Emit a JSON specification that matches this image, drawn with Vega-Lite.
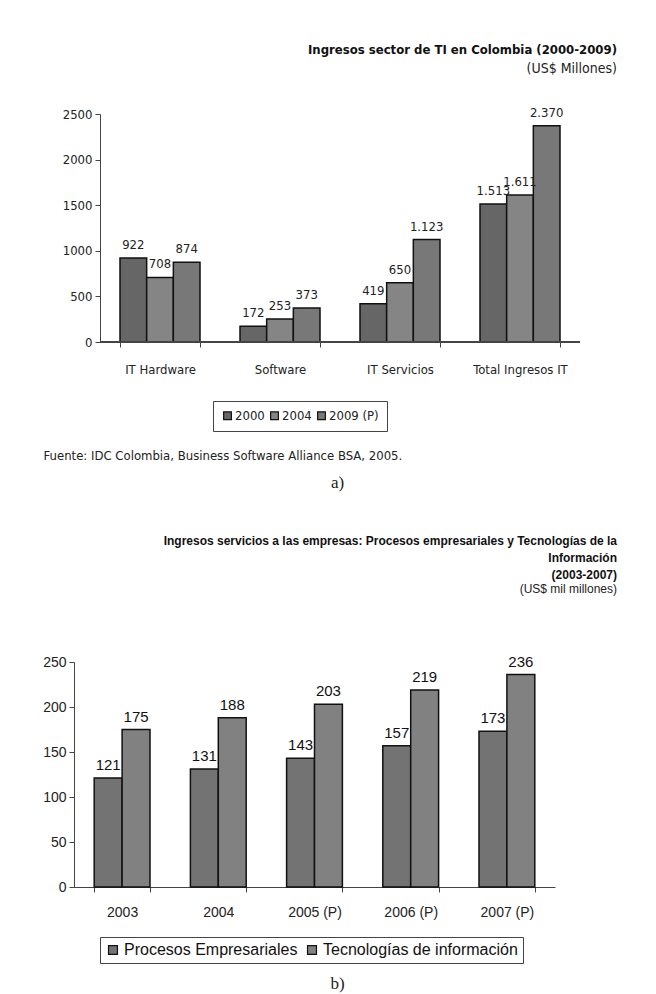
{
  "$schema": "https://vega.github.io/schema/vega-lite/v6.json",
  "padding": {"left": 42, "top": 43, "right": 5, "bottom": 5},
  "background": "white",
  "spacing": 44,
  "resolve": {"scale": {"x": "independent", "xOffset": "independent", "y": "independent", "color": "independent"}, "legend": {"color": "independent"}},
  "config": {
    "view": {"stroke": null},
    "locale": {"number": {"decimal": ",", "thousands": ".", "grouping": [3], "currency": ["US$", ""]}},
    "axis": {"grid": false, "domainColor": "#444", "tickColor": "#444", "labelColor": "#222", "titleColor": "#222"}
  },
  "vconcat": [
    {
      "width": 506,
      "height": 228,
      "title": {
        "text": "Ingresos sector de TI en Colombia (2000-2009)",
        "subtitle": "(US$ Millones)",
        "anchor": "end",
        "frame": "group",
        "dx": 37,
        "offset": 31,
        "font": "DejaVu Sans Condensed, Liberation Sans Narrow, Liberation Sans, sans-serif",
        "fontSize": 13,
        "fontWeight": "bold",
        "color": "#111",
        "subtitleFont": "DejaVu Sans Condensed, Liberation Sans Narrow, Liberation Sans, sans-serif",
        "subtitleFontSize": 14,
        "subtitleColor": "#222",
        "subtitlePadding": 5
      },
      "data": {"values": [
        {"cat": "IT Hardware", "year": "2000", "v": 922},
        {"cat": "IT Hardware", "year": "2004", "v": 708},
        {"cat": "IT Hardware", "year": "2009 (P)", "v": 874},
        {"cat": "Software", "year": "2000", "v": 172},
        {"cat": "Software", "year": "2004", "v": 253},
        {"cat": "Software", "year": "2009 (P)", "v": 373},
        {"cat": "IT Servicios", "year": "2000", "v": 419},
        {"cat": "IT Servicios", "year": "2004", "v": 650},
        {"cat": "IT Servicios", "year": "2009 (P)", "v": 1123},
        {"cat": "Total Ingresos IT", "year": "2000", "v": 1513},
        {"cat": "Total Ingresos IT", "year": "2004", "v": 1611},
        {"cat": "Total Ingresos IT", "year": "2009 (P)", "v": 2370}
      ]},
      "resolve": {"axis": {"x": "independent"}},
      "layer": [
        {
          "mark": {"type": "bar", "stroke": "#111", "strokeWidth": 1.5},
          "encoding": {
            "x": {"field": "cat", "type": "nominal", "sort": null,
              "scale": {"domain": ["IT Hardware", "Software", "IT Servicios", "Total Ingresos IT"], "paddingInner": 0.3333, "paddingOuter": 0.275, "align": 0.697},
              "axis": {"orient": "bottom", "labelAngle": 0, "tickBand": "extent", "tickSize": 5, "labelPadding": 16, "domain": false,
                "labelFont": "DejaVu Sans Condensed, Liberation Sans Narrow, Liberation Sans, sans-serif", "labelFontSize": 13,
                "title": "Fuente: IDC Colombia, Business Software Alliance BSA, 2005.",
                "titleFont": "DejaVu Sans Condensed, Liberation Sans Narrow, Liberation Sans, sans-serif", "titleFontSize": 13, "titleFontWeight": "normal",
                "titleX": -31, "titleY": 113, "titleAlign": "left", "titleAnchor": "start", "titleBaseline": "middle"}},
            "xOffset": {"field": "year", "type": "nominal", "sort": null},
            "y": {"field": "v", "type": "quantitative",
              "scale": {"domain": [0, 2500], "nice": false},
              "axis": {"title": null, "values": [0, 500, 1000, 1500, 2000, 2500], "format": "d", "offset": -26,
                "tickSize": 5, "labelFont": "DejaVu Sans Condensed, Liberation Sans Narrow, Liberation Sans, sans-serif", "labelFontSize": 13, "labelPadding": 3}},
            "color": {"field": "year", "type": "nominal", "sort": null,
              "scale": {"range": ["#666666", "#858585", "#787878"]},
              "legend": {"orient": "none", "legendX": 139, "legendY": 287, "direction": "horizontal",
                "title": null, "symbolType": "square", "symbolSize": 60, "symbolStrokeColor": "#111",
                "symbolStrokeWidth": 1.2, "symbolOpacity": 1,
                "labelFont": "DejaVu Sans Condensed, Liberation Sans Narrow, Liberation Sans, sans-serif", "labelFontSize": 13, "labelColor": "#222",
                "strokeColor": "#444", "padding": 8, "columnPadding": 3, "labelOffset": 1}}
          }
        },
        {
          "mark": {"type": "rule", "color": "#444", "strokeWidth": 1},
          "encoding": {
            "x": {"datum": "IT Hardware", "type": "nominal", "bandPosition": -0.25, "axis": null},
            "x2": {"datum": "Total Ingresos IT", "bandPosition": 1.25},
            "y": {"datum": 0, "type": "quantitative"}
          }
        },
        {
          "mark": {"type": "text", "dy": -13, "font": "DejaVu Sans Condensed, Liberation Sans Narrow, Liberation Sans, sans-serif", "fontSize": 13, "color": "#222"},
          "encoding": {
            "x": {"field": "cat", "type": "nominal", "sort": null,
              "axis": {"orient": "bottom", "labels": false, "ticks": false, "domain": false,
                "title": "a)", "titleFont": "Liberation Serif", "titleFontSize": 17, "titleFontWeight": "normal",
                "titleX": 263, "titleY": 140, "titleAlign": "center", "titleBaseline": "middle"}},
            "xOffset": {"field": "year", "type": "nominal", "sort": null},
            "y": {"field": "v", "type": "quantitative"},
            "text": {"field": "v", "type": "quantitative", "format": ",.0f"}
          }
        }
      ]
    },
    {
      "width": 481,
      "height": 225,
      "title": {
        "text": ["Ingresos servicios a las empresas: Procesos empresariales y Tecnologías de la", "Información", "(2003-2007)"],
        "subtitle": "(US$ mil millones)",
        "anchor": "end",
        "frame": "group",
        "align": "right",
        "dx": 62,
        "offset": 59,
        "font": "Liberation Sans",
        "fontSize": 12,
        "fontWeight": "bold",
        "lineHeight": 17,
        "color": "#111",
        "subtitleFont": "Liberation Sans",
        "subtitleFontSize": 12,
        "subtitleColor": "#222",
        "subtitlePadding": 2
      },
      "data": {"values": [
        {"yr": "2003", "s": "Procesos Empresariales", "v": 121},
        {"yr": "2003", "s": "Tecnologías de información", "v": 175},
        {"yr": "2004", "s": "Procesos Empresariales", "v": 131},
        {"yr": "2004", "s": "Tecnologías de información", "v": 188},
        {"yr": "2005 (P)", "s": "Procesos Empresariales", "v": 143},
        {"yr": "2005 (P)", "s": "Tecnologías de información", "v": 203},
        {"yr": "2006 (P)", "s": "Procesos Empresariales", "v": 157},
        {"yr": "2006 (P)", "s": "Tecnologías de información", "v": 219},
        {"yr": "2007 (P)", "s": "Procesos Empresariales", "v": 173},
        {"yr": "2007 (P)", "s": "Tecnologías de información", "v": 236}
      ]},
      "resolve": {"axis": {"x": "independent"}},
      "layer": [
        {
          "mark": {"type": "bar", "stroke": "#111", "strokeWidth": 1.5},
          "encoding": {
            "x": {"field": "yr", "type": "nominal", "sort": null,
              "scale": {"paddingInner": 0.42, "paddingOuter": 0.21},
              "axis": {"orient": "bottom", "labelAngle": 0, "tickBand": "extent", "tickSize": 5, "labelPadding": 13,
                "labelFont": "Liberation Sans", "labelFontSize": 14, "title": null}},
            "xOffset": {"field": "s", "type": "nominal", "sort": null},
            "y": {"field": "v", "type": "quantitative",
              "scale": {"domain": [0, 250], "nice": false},
              "axis": {"title": null, "values": [0, 50, 100, 150, 200, 250],
                "tickSize": 5, "labelFont": "Liberation Sans", "labelFontSize": 14, "labelPadding": 3}},
            "color": {"field": "s", "type": "nominal", "sort": null,
              "scale": {"range": ["#737373", "#818181"]},
              "legend": {"orient": "none", "legendX": 26, "legendY": 275, "direction": "horizontal",
                "title": null, "symbolType": "square", "symbolSize": 80, "symbolStrokeColor": "#111",
                "symbolStrokeWidth": 1.2, "symbolOpacity": 1, "labelLimit": 400,
                "labelFont": "Liberation Sans", "labelFontSize": 16, "labelColor": "#111",
                "strokeColor": "#444", "padding": 5, "columnPadding": 6, "labelOffset": 3}}
          }
        },
        {
          "mark": {"type": "text", "dy": -13, "font": "Liberation Sans", "fontSize": 15, "color": "#111"},
          "encoding": {
            "x": {"field": "yr", "type": "nominal", "sort": null,
              "axis": {"orient": "bottom", "labels": false, "ticks": false, "domain": false,
                "title": "b)", "titleFont": "Liberation Serif", "titleFontSize": 17, "titleFontWeight": "normal",
                "titleX": 263, "titleY": 96, "titleAlign": "center", "titleBaseline": "middle"}},
            "xOffset": {"field": "s", "type": "nominal", "sort": null},
            "y": {"field": "v", "type": "quantitative"},
            "text": {"field": "v", "type": "quantitative"}
          }
        }
      ]
    }
  ]
}
